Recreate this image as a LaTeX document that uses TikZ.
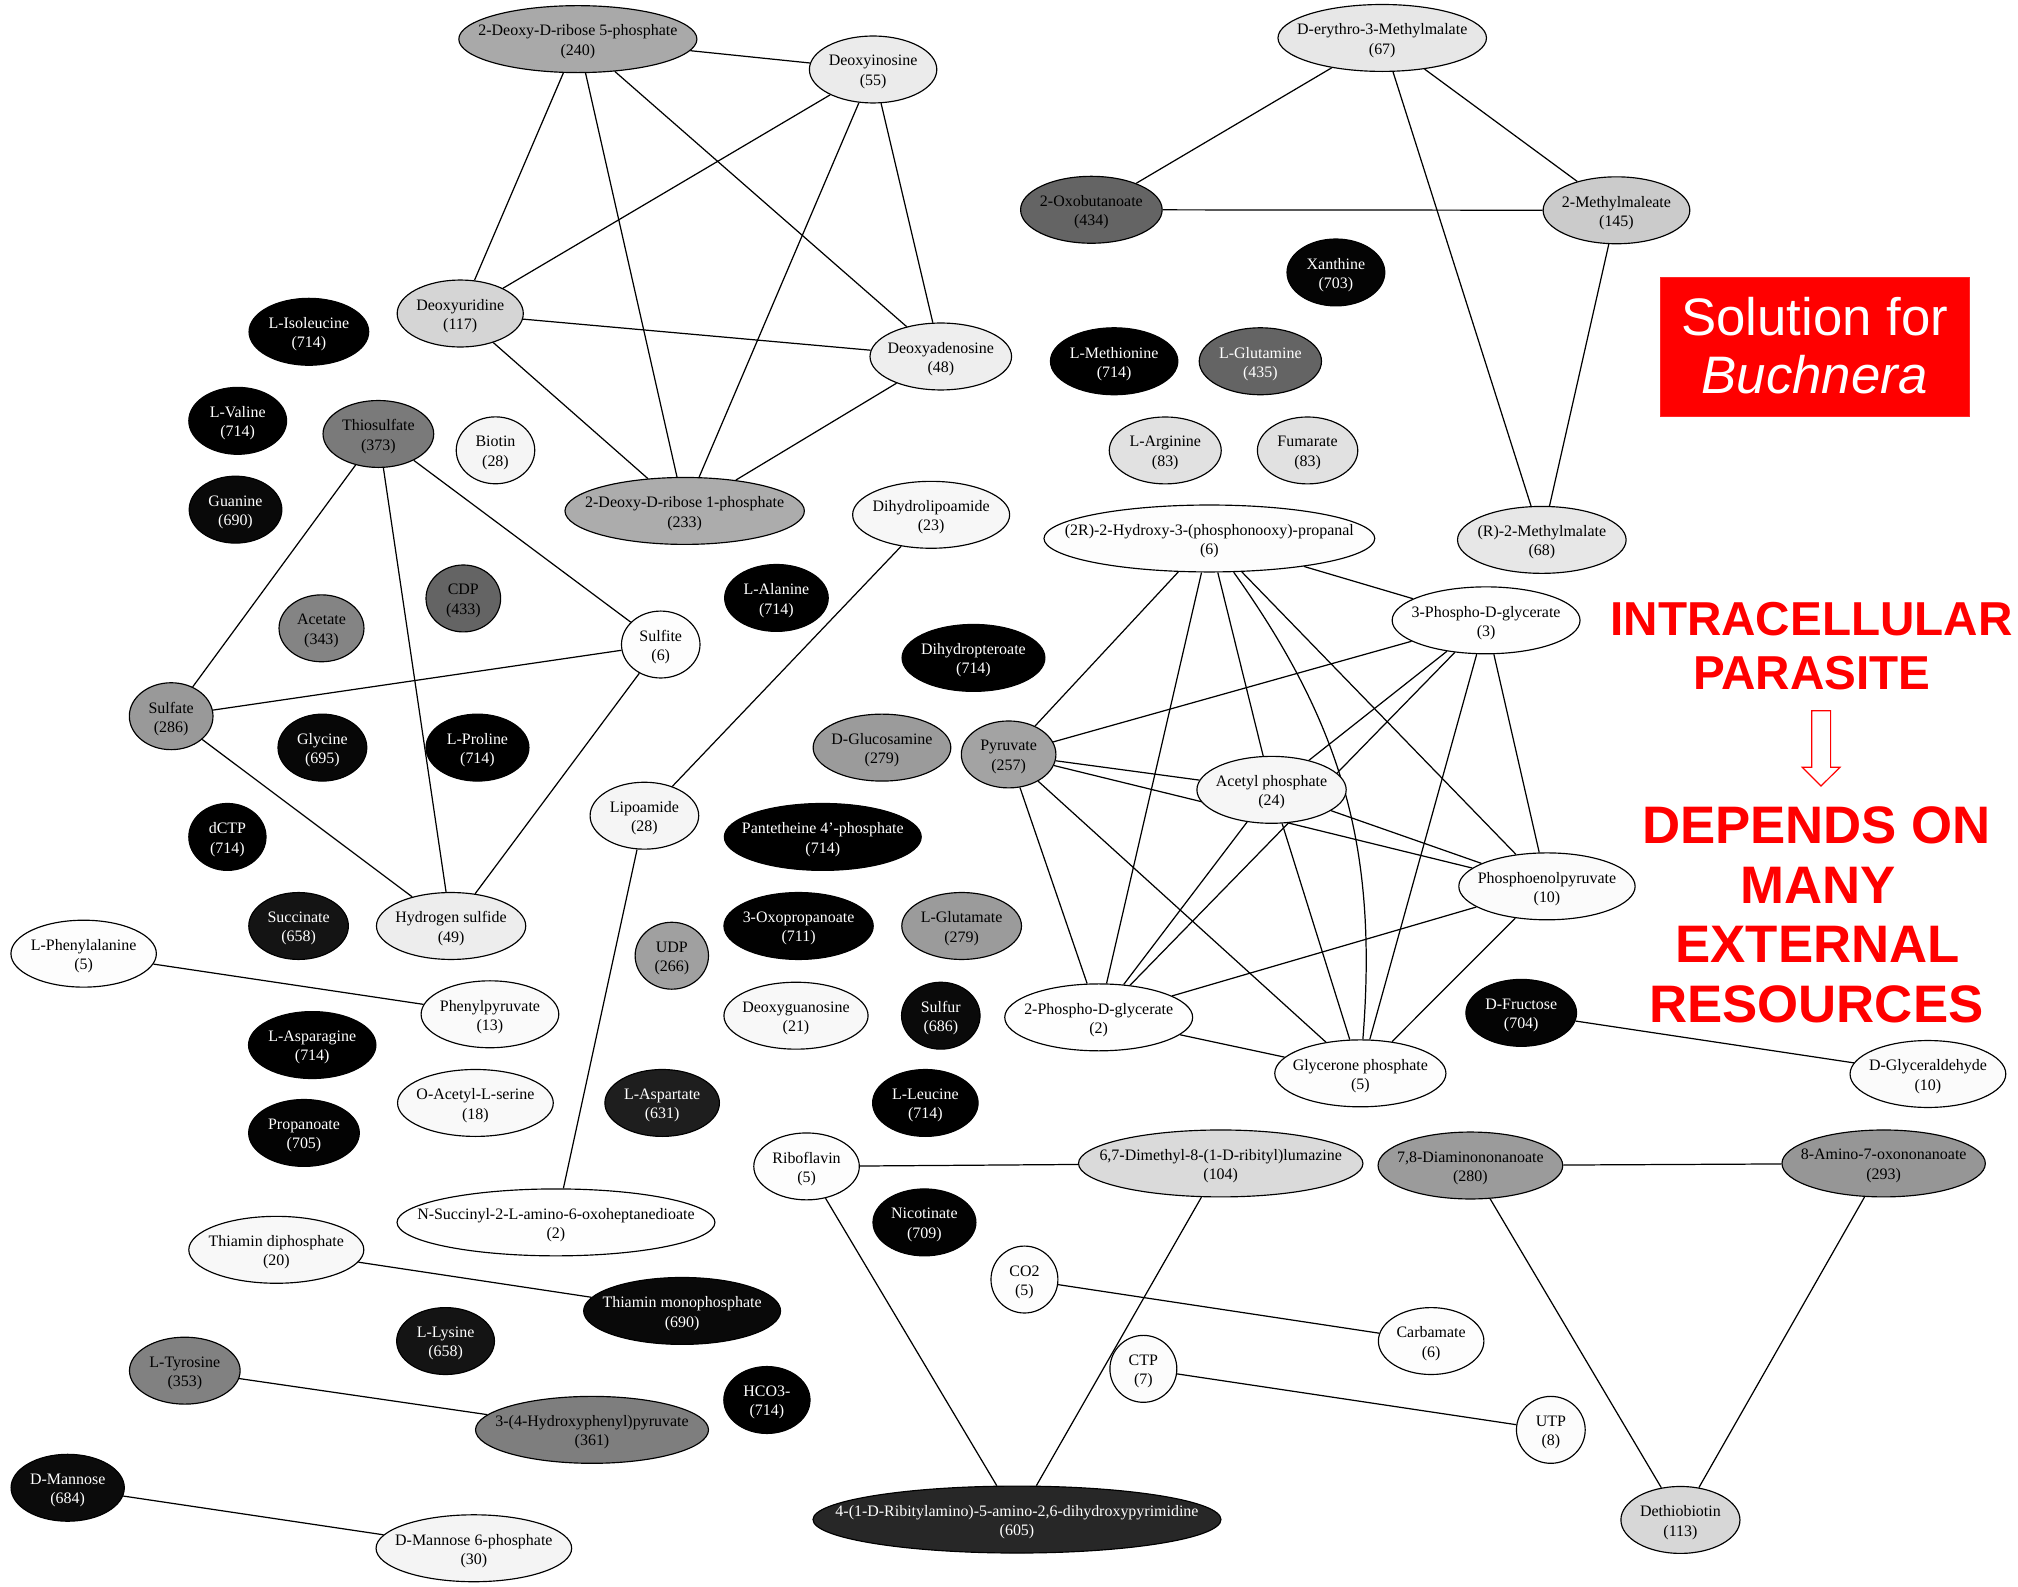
\documentclass[tikz,border=0pt]{standalone}
\usepackage{fontspec}
\setmainfont{Liberation Serif}
\newfontfamily\redsans{Liberation Sans}
\usetikzlibrary{shapes.geometric,backgrounds}

\tikzset{
  met/.style={ellipse, draw=black, line width=0.9pt, minimum height=52pt, inner sep=0pt},
  lbl/.style={align=center, font=\fontsize{12.4}{15}\selectfont, inner sep=0pt},
  lnk/.style={line width=0.95pt},
  redtxt/.style={text=red, inner sep=0pt, anchor=base},
  bigred/.style={redtxt, font=\redsans\bfseries\fontsize{41}{41}\selectfont},
  midred/.style={redtxt, font=\redsans\bfseries\fontsize{37}{37}\selectfont},
  soltxt/.style={text=white, inner sep=0pt, anchor=base, font=\redsans\fontsize{41}{41}\selectfont},
}

\newcommand\mnode[6]{%
  \pgfmathsetmacro\mpct{#6/7.14}%
  \ifnum#6>434\relax\def\mtxt{white}\else\def\mtxt{black}\fi
  \node[met, fill=black!\mpct, minimum width=#4pt] (#1) at (#2,#3) {};
  \node[lbl, text=\mtxt, yshift=-2pt] (#1-t) at (#1.center) {#5\\(#6)};
}

\begin{document}
\begin{tikzpicture}[x=1pt, y=-1pt]
\useasboundingbox (0,0) rectangle (1568,1233);

% ---- metabolite nodes: name, x, y, width, label, count
\mnode{r5p}{449}{30.4}{185}{2-Deoxy-D-ribose 5-phosphate}{240}
\mnode{dino}{678.4}{54}{99}{Deoxyinosine}{55}
\mnode{duri}{357.6}{243.6}{98}{Deoxyuridine}{117}
\mnode{dade}{731}{277}{110}{Deoxyadenosine}{48}
\mnode{r1p}{532}{397}{186}{2-Deoxy-D-ribose 1-phosphate}{233}
\mnode{ery}{1074}{29.5}{162}{D-erythro-3-Methylmalate}{67}
\mnode{oxo}{848}{163}{110}{2-Oxobutanoate}{434}
\mnode{mmal}{1256}{163.4}{114}{2-Methylmaleate}{145}
\mnode{xan}{1038}{211.7}{76}{Xanthine}{703}
\mnode{met}{865.7}{280.7}{99}{L-Methionine}{714}
\mnode{gln}{979.3}{280.7}{95}{L-Glutamine}{435}
\mnode{arg}{905.4}{350}{87}{L-Arginine}{83}
\mnode{fum}{1016}{350}{78}{Fumarate}{83}
\mnode{g3p}{939.7}{418.4}{257}{(2R)-2-Hydroxy-3-(phosphonooxy)-propanal}{6}
\mnode{rmm}{1198}{419.5}{131}{(R)-2-Methylmalate}{68}
\mnode{pg3}{1154.7}{482}{146}{3-Phospho-D-glycerate}{3}
\mnode{ile}{240}{257.8}{93}{L-Isoleucine}{714}
\mnode{val}{184.7}{327}{76}{L-Valine}{714}
\mnode{thio}{294}{337.2}{86}{Thiosulfate}{373}
\mnode{bio}{385}{349.9}{61}{Biotin}{28}
\mnode{gua}{183}{396}{72}{Guanine}{690}
\mnode{dhl}{723.5}{400}{122}{Dihydrolipoamide}{23}
\mnode{ala}{603.3}{464.6}{80.5}{L-Alanine}{714}
\mnode{cdp}{360}{465}{58}{CDP}{433}
\mnode{ace}{249.8}{488.2}{66}{Acetate}{343}
\mnode{sulfite}{513.4}{500.8}{61}{Sulfite}{6}
\mnode{dhp}{756.4}{511.2}{111}{Dihydropteroate}{714}
\mnode{sulfate}{133}{556.5}{65}{Sulfate}{286}
\mnode{gly}{250.5}{580.9}{69}{Glycine}{695}
\mnode{pro}{371}{580.9}{80}{L-Proline}{714}
\mnode{glcn}{685.3}{580.9}{107}{D-Glucosamine}{279}
\mnode{pyr}{783.7}{586.2}{73.5}{Pyruvate}{257}
\mnode{acp}{988}{613.7}{116}{Acetyl phosphate}{24}
\mnode{lipo}{500.7}{633.8}{84.4}{Lipoamide}{28}
\mnode{pan}{639.3}{650.3}{153}{Pantetheine 4’-phosphate}{714}
\mnode{dctp}{176.7}{650.3}{60}{dCTP}{714}
\mnode{pep}{1202}{688.7}{137}{Phosphoenolpyruvate}{10}
\mnode{succ}{232}{719.5}{77.4}{Succinate}{658}
\mnode{hs}{350.5}{719.5}{116}{Hydrogen sulfide}{49}
\mnode{oxop}{620.5}{719.5}{116}{3-Oxopropanoate}{711}
\mnode{glu}{747.2}{719.5}{93}{L-Glutamate}{279}
\mnode{udp}{522}{742.6}{57}{UDP}{266}
\mnode{phe}{65}{741}{113}{L-Phenylalanine}{5}
\mnode{ppyr}{380.7}{788.1}{107}{Phenylpyruvate}{13}
\mnode{dguo}{618.5}{789.2}{112}{Deoxyguanosine}{21}
\mnode{sulfur}{731}{789.2}{61}{Sulfur}{686}
\mnode{pg2}{853.7}{790.5}{146}{2-Phospho-D-glycerate}{2}
\mnode{fru}{1182}{787}{86}{D-Fructose}{704}
\mnode{asn}{242.6}{812}{99}{L-Asparagine}{714}
\mnode{dhap}{1057}{834}{133}{Glycerone phosphate}{5}
\mnode{glyald}{1498}{834.5}{121}{D-Glyceraldehyde}{10}
\mnode{oas}{369.4}{857}{121}{O-Acetyl-L-serine}{18}
\mnode{asp}{514.5}{857}{89}{L-Aspartate}{631}
\mnode{leu}{719}{857}{82}{L-Leucine}{714}
\mnode{propa}{236.2}{880.3}{86}{Propanoate}{705}
\mnode{ribo}{626.7}{906.3}{82}{Riboflavin}{5}
\mnode{dml}{948.5}{904}{221}{6,7-Dimethyl-8-(1-D-ribityl)lumazine}{104}
\mnode{dan}{1142.5}{905.6}{143.5}{7,8-Diaminononanoate}{280}
\mnode{aon}{1463.6}{904}{158}{8-Amino-7-oxononanoate}{293}
\mnode{nsucc}{432}{949.8}{247}{N-Succinyl-2-L-amino-6-oxoheptanedioate}{2}
\mnode{nico}{718.3}{949.8}{80}{Nicotinate}{709}
\mnode{tdp}{214.7}{971.1}{136}{Thiamin diphosphate}{20}
\mnode{co2}{796}{994.2}{52}{CO2}{5}
\mnode{tmp}{530}{1018.6}{153}{Thiamin monophosphate}{690}
\mnode{carb}{1112}{1042}{82}{Carbamate}{6}
\mnode{lys}{346.2}{1042}{76}{L-Lysine}{658}
\mnode{tyr}{143.6}{1065}{86}{L-Tyrosine}{353}
\mnode{ctp}{888.4}{1063.6}{52}{CTP}{7}
\mnode{hco3}{595.9}{1087.8}{67}{HCO3-}{714}
\mnode{hpp}{460}{1111}{181}{3-(4-Hydroxyphenyl)pyruvate}{361}
\mnode{utp}{1205}{1111}{53.4}{UTP}{8}
\mnode{man}{52.6}{1156}{88}{D-Mannose}{684}
\mnode{m6p}{368.2}{1203}{152}{D-Mannose 6-phosphate}{30}
\mnode{rap}{790.2}{1180.7}{317}{4-(1-D-Ribitylamino)-5-amino-2,6-dihydroxypyrimidine}{605}
\mnode{dtb}{1305.7}{1181}{92.5}{Dethiobiotin}{113}

% ---- red annotations
\node[fill=red, draw=red!85!white, line width=0.8pt, minimum width=240pt, minimum height=107.5pt,
      inner sep=0pt, anchor=north west] (solbox) at (1290,215.5) {};
\node[soltxt] (sol1) at (1410,261) {Solution for};
\node[soltxt] (sol2) at (1410,305.8) {\itshape Buchnera};

\node[midred] (rt1) at (1407.5,494) {INTRACELLULAR};
\node[midred] (rt2) at (1407.7,535.7) {PARASITE};
\node[bigred] (rt3) at (1411.4,655.5) {DEPENDS ON};
\node[bigred] (rt4) at (1412.4,702.4) {MANY};
\node[bigred] (rt5) at (1412.3,747.9) {EXTERNAL};
\node[bigred] (rt6) at (1411.3,794.7) {RESOURCES};

\draw[red, line width=0.9pt, fill=white, line join=miter]
  (1407.7,552.2) -- (1422.4,552.2) -- (1422.4,596.2) -- (1429.7,596.2)
  -- (1414.9,610.7) -- (1400.4,596.2) -- (1407.7,596.2) -- cycle;

% ---- connectors
\begin{pgfonlayer}{background}
\fill[white] (0,0) rectangle (1568,1233);
% deoxy-nucleosides
\draw[lnk] (r5p) -- (dino);
\draw[lnk] (r5p) -- (duri);
\draw[lnk] (r5p) -- (r1p);
\draw[lnk] (r5p) -- (dade);
\draw[lnk] (dino) -- (duri);
\draw[lnk] (dino) -- (r1p);
\draw[lnk] (dino) -- (dade);
\draw[lnk] (duri) -- (dade);
\draw[lnk] (duri) -- (r1p);
\draw[lnk] (dade) -- (r1p);
% methylmalate
\draw[lnk] (ery) -- (oxo);
\draw[lnk] (ery) -- (mmal);
\draw[lnk] (ery) -- (rmm);
\draw[lnk] (oxo) -- (mmal);
\draw[lnk] (mmal) -- (rmm);
% sulfur
\draw[lnk] (thio) -- (sulfate);
\draw[lnk] (thio) -- (hs);
\draw[lnk] (thio) -- (sulfite);
\draw[lnk] (sulfate) -- (sulfite);
\draw[lnk] (sulfate) -- (hs);
\draw[lnk] (sulfite) -- (hs);
% lipoamide
\draw[lnk] (dhl) -- (lipo);
\draw[lnk] (lipo) -- (nsucc);
% glycolysis
\draw[lnk] (g3p) -- (pg3);
\draw[lnk] (g3p) -- (pyr);
\draw[lnk] (g3p) -- (pg2);
\draw[lnk] (g3p) -- (acp);
\draw[lnk] (g3p) -- (pep);
\draw[lnk] (g3p) to[bend left=20] (dhap);
\draw[lnk] (pg3) -- (pyr);
\draw[lnk] (pg3) -- (acp);
\draw[lnk] (pg3) -- (pg2);
\draw[lnk] (pg3) -- (dhap);
\draw[lnk] (pg3) -- (pep);
\draw[lnk] (pyr) -- (acp);
\draw[lnk] (pyr) -- (pep);
\draw[lnk] (pyr) -- (pg2);
\draw[lnk] (pyr) -- (dhap);
\draw[lnk] (acp) -- (pep);
\draw[lnk] (acp) -- (pg2);
\draw[lnk] (acp) -- (dhap);
\draw[lnk] (pep) -- (pg2);
\draw[lnk] (pep) -- (dhap);
\draw[lnk] (pg2) -- (dhap);
% pairs and small groups
\draw[lnk] (phe) -- (ppyr);
\draw[lnk] (tdp) -- (tmp);
\draw[lnk] (tyr) -- (hpp);
\draw[lnk] (man) -- (m6p);
\draw[lnk] (ribo) -- (dml);
\draw[lnk] (ribo) -- (rap);
\draw[lnk] (dml) -- (rap);
\draw[lnk] (co2) -- (carb);
\draw[lnk] (ctp) -- (utp);
\draw[lnk] (fru) -- (glyald);
\draw[lnk] (dan) -- (aon);
\draw[lnk] (dan) -- (dtb);
\draw[lnk] (aon) -- (dtb);
\end{pgfonlayer}
\end{tikzpicture}
\end{document}
